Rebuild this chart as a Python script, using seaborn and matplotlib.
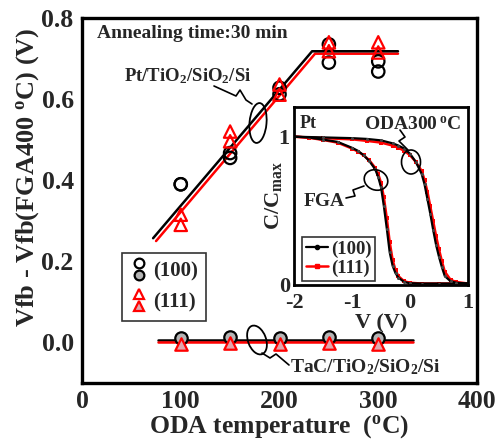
import matplotlib
matplotlib.use("Agg")
import matplotlib.pyplot as plt
import matplotlib.transforms as mtransforms
from matplotlib.patches import Ellipse
from matplotlib.lines import Line2D
from matplotlib.legend_handler import HandlerBase
import seaborn as sns
import pandas as pd

# ---------------- data ----------------
temps = [100, 150, 200, 250, 300]
pt100_a = [0.39, 0.467, 0.628, 0.735, 0.693]
pt100_b = [0.39, 0.455, 0.612, 0.69, 0.668]
pt111_a = [0.315, 0.52, 0.636, 0.74, 0.74]
pt111_b = [0.29, 0.496, 0.611, 0.718, 0.715]
tac100 = [0.012, 0.013, 0.011, 0.013, 0.011]
tac111 = [-0.003, -0.002, -0.003, -0.002, -0.003]

fit_pt100_x = [72, 233, 320]
fit_pt100_y = [0.257, 0.718, 0.718]
fit_pt111_x = [75, 236, 320]
fit_pt111_y = [0.25, 0.712, 0.712]
fit_tac_x = [77, 335]
fit_tac100_y = [0.005, 0.005]
fit_tac111_y = [0.0, 0.0]

V_fga = [-2.0, -1.75, -1.5, -1.25, -1.0, -0.9, -0.8, -0.7, -0.6, -0.55, -0.5,
         -0.45, -0.4, -0.35, -0.3, -0.25, -0.2, -0.1, 0.0, 0.2, 0.5, 1.0]
C_fga100 = [1.0, 0.995, 0.98, 0.965, 0.925, 0.905, 0.875, 0.835, 0.78, 0.73, 0.66,
            0.53, 0.38, 0.22, 0.13, 0.08, 0.05, 0.02, 0.012, 0.01, 0.01, 0.01]
C_fga111 = [1.0, 0.993, 0.978, 0.96, 0.92, 0.9, 0.875, 0.84, 0.79, 0.75, 0.69,
            0.59, 0.45, 0.29, 0.17, 0.1, 0.06, 0.025, 0.015, 0.01, 0.01, 0.01]
V_oda = [-2.0, -1.5, -1.0, -0.75, -0.5, -0.3, -0.2, -0.1, 0.0, 0.1, 0.2, 0.25,
         0.3, 0.35, 0.4, 0.45, 0.5, 0.55, 0.6, 0.7, 0.8, 1.0]
C_oda100 = [1.0, 0.995, 0.99, 0.985, 0.975, 0.955, 0.94, 0.92, 0.885, 0.83, 0.75, 0.68,
            0.58, 0.48, 0.37, 0.27, 0.19, 0.12, 0.06, 0.025, 0.015, 0.01]
C_oda111 = [1.0, 0.99, 0.982, 0.972, 0.96, 0.94, 0.925, 0.905, 0.875, 0.83, 0.77, 0.71,
            0.63, 0.53, 0.43, 0.33, 0.24, 0.16, 0.09, 0.035, 0.02, 0.01]

# ---------------- style ----------------
sns.set_style("white")
FONT = "Liberation Serif"
plt.rcParams["font.family"] = [FONT, "DejaVu Serif"]
plt.rcParams["font.weight"] = "bold"
plt.rcParams["mathtext.fontset"] = "custom"
plt.rcParams["mathtext.rm"] = "Liberation Serif:bold"
plt.rcParams["mathtext.bf"] = "Liberation Serif:bold"
plt.rcParams["mathtext.it"] = "Liberation Serif:bold"
plt.rcParams["axes.linewidth"] = 2.2
plt.rcParams["axes.unicode_minus"] = False

W, H = 496, 441
fig = plt.figure(figsize=(W / 100, H / 100), dpi=100)
pix = mtransforms.Affine2D().scale(1, -1).translate(0, H).scale(1 / W, 1 / H) + fig.transFigure

ax = fig.add_axes([82 / W, 1 - 383 / H, (477 - 82) / W, (383 - 18) / H])

MS = 80
GRAY = "#b4b4b4"
PINK = "#e0a6ad"

# fit lines
sns.lineplot(x=fit_pt111_x, y=fit_pt111_y, ax=ax, color="red", lw=1.8, sort=False)
sns.lineplot(x=fit_pt100_x, y=fit_pt100_y, ax=ax, color="black", lw=1.8, sort=False)
sns.lineplot(x=fit_tac_x, y=fit_tac100_y, ax=ax, color="black", lw=1.8, sort=False)
sns.lineplot(x=fit_tac_x, y=fit_tac111_y, ax=ax, color="red", lw=1.8, sort=False)

# Pt markers (open)
for ys in (pt100_a, pt100_b):
    sns.scatterplot(x=temps, y=ys, ax=ax, marker="o", s=MS, facecolor="none",
                    edgecolor="black", linewidth=1.6, zorder=3)
for ys in (pt111_a, pt111_b):
    sns.scatterplot(x=temps, y=ys, ax=ax, marker="^", s=MS, facecolor="none",
                    edgecolor="red", linewidth=1.6, zorder=4)
# TaC markers (filled)
sns.scatterplot(x=temps, y=tac100, ax=ax, marker="o", s=MS, facecolor=GRAY,
                edgecolor="black", linewidth=1.6, zorder=3)
sns.scatterplot(x=temps, y=tac111, ax=ax, marker="^", s=MS, facecolor=PINK,
                edgecolor="red", linewidth=1.6, zorder=4)

ax.set_xlim(0, 400)
ax.set_ylim(-0.1, 0.8)
ax.set_xticks([0, 100, 200, 300, 400])
ax.set_yticks([0.0, 0.2, 0.4, 0.6, 0.8])
ax.set_yticklabels(["0.0", "0.2", "0.4", "0.6", "0.8"])
ax.set_yticks([0.1, 0.3, 0.5, 0.7], minor=True)
ax.tick_params(axis="both", which="both", direction="in", labelsize=18.5, width=1.6)
ax.tick_params(axis="both", which="major", length=7, pad=6)
ax.tick_params(axis="y", which="minor", length=5)
ax.tick_params(axis="x", which="major", pad=5)
for s in ax.spines.values():
    s.set_linewidth(2.4)
    s.set_color("black")
ax.set_xlabel(r"ODA temperature  ($^{\mathrm{o}}$C)", fontsize=18.5, fontweight="bold", labelpad=0)
ax.set_ylabel(r"Vfb - Vfb(FGA400 $^{\mathrm{o}}$C) (V)", fontsize=19, fontweight="bold")
ax.yaxis.set_label_coords(-0.105, 0.565)


class StackHandler(HandlerBase):
    def create_artists(self, legend, orig_handle, xdescent, ydescent, width, height, fontsize, trans):
        top, bot = orig_handle
        arts = []
        for (mk, fc, ec), dy in ((top, 0.42), (bot, -0.42)):
            l = Line2D([width / 2 - xdescent], [height / 2 - ydescent + dy * height],
                       marker=mk, markersize=7, markerfacecolor=fc, markeredgecolor=ec,
                       markeredgewidth=1.6, linestyle="none", transform=trans)
            arts.append(l)
        return arts


h100 = (("o", "none", "black"), ("o", GRAY, "black"))
h111 = (("^", "none", "red"), ("^", PINK, "red"))
leg = ax.legend([h100, h111], ["(100)", "(111)"], handler_map={tuple: StackHandler()},
                loc="lower left", bbox_to_anchor=(0.101, 0.17), borderaxespad=0,
                fontsize=15, frameon=True, fancybox=False, edgecolor="black",
                handlelength=0.8, handletextpad=0.3, labelspacing=0.55, borderpad=0.4)
leg.get_frame().set_linewidth(1.2)

# texts
fig.text(97, 33, "Annealing time:30 min", transform=pix, fontsize=14, fontweight="bold", va="center")
fig.text(124, 76, r"Pt/TiO$_2$/SiO$_2$/Si", transform=pix, fontsize=13.5, fontweight="bold", va="center")
fig.text(290, 367, r"TaC/TiO$_2$/SiO$_2$/Si", transform=pix, fontsize=14, fontweight="bold", va="center")

# annotation ellipses and squiggles
def squig(pts, lw=1.2):
    xs = [p[0] for p in pts]
    ys = [p[1] for p in pts]
    fig.add_artist(Line2D(xs, ys, transform=pix, color="black", lw=lw, zorder=10))

fig.add_artist(Ellipse((258, 123), 17, 40, angle=5, transform=pix, fill=False, lw=1.3, ec="black", zorder=10))
squig([(214, 86), (236, 96), (240, 90), (246, 100), (252, 104)])
fig.add_artist(Ellipse((257, 340), 18, 30, angle=-20, transform=pix, fill=False, lw=1.3, ec="black", zorder=10))
squig([(262, 353), (270, 358), (276, 354), (289, 365)])

# ---------------- inset ----------------
ins = fig.add_axes([294 / W, 1 - 285 / H, (468 - 294) / W, (285 - 107) / H])
ins.set_facecolor("white")
cv = pd.DataFrame({"V": V_fga, "C100": C_fga100, "C111": C_fga111})
cv2 = pd.DataFrame({"V": V_oda, "C100": C_oda100, "C111": C_oda111})
for d in (cv, cv2):
    sns.lineplot(data=d, x="V", y="C111", ax=ins, color="red", lw=1.8, marker="s",
                 markersize=2.5, markeredgewidth=0, markerfacecolor="red")
for d in (cv, cv2):
    sns.lineplot(data=d, x="V", y="C100", ax=ins, color="black", lw=1.6, marker="o",
                 markersize=2.2, markeredgewidth=0, markerfacecolor="#444444")
ins.set_xlim(-2, 1)
ins.set_ylim(0, 1.2)
ins.set_xticks([-2, -1, 0, 1])
ins.set_yticks([0, 0.2, 0.4, 0.6, 0.8, 1.0])
ins.set_yticklabels(["0", "", "", "", "", "1"])
ins.tick_params(axis="both", direction="in", labelsize=16, length=5, width=1.3, pad=3)
ins.tick_params(axis="x", pad=6)
for s in ins.spines.values():
    s.set_linewidth(2.0)
    s.set_color("black")
ins.set_xlabel("V (V)", fontsize=16, fontweight="bold", labelpad=0)
ins.set_ylabel(r"C/C$_{\mathrm{max}}$", fontsize=16, fontweight="bold", labelpad=-4)

lh = [Line2D([], [], color="black", lw=1.6, marker="o", markersize=3),
      Line2D([], [], color="red", lw=1.8, marker="s", markersize=3)]
leg2 = ins.legend(lh, ["(100)", "(111)"], loc="lower left", bbox_to_anchor=(0.045, 0.025),
                  borderaxespad=0, fontsize=13.5, frameon=True, fancybox=False,
                  edgecolor="black", handlelength=1.2, handletextpad=0.15,
                  labelspacing=0.1, borderpad=0.2)
leg2.get_frame().set_linewidth(1.2)

fig.text(300, 124, "Pt", transform=pix, fontsize=13, fontweight="bold", va="center")
fig.text(461, 125, r"ODA300$\,^{\mathrm{o}}$C", transform=pix, fontsize=14, fontweight="bold",
         va="center", ha="right")
fig.text(304, 202, "FGA", transform=pix, fontsize=14, fontweight="bold", va="center")

fig.add_artist(Ellipse((376, 180), 24, 20, angle=20, transform=pix, fill=False, lw=1.2, ec="black", zorder=10))
squig([(346, 198), (355, 196), (353, 190), (364, 186)])
fig.add_artist(Ellipse((411, 162), 19, 24, angle=0, transform=pix, fill=False, lw=1.2, ec="black", zorder=10))
squig([(408, 150), (399, 141), (405, 137), (400, 130)])

fig.savefig("out.png", dpi=100)
